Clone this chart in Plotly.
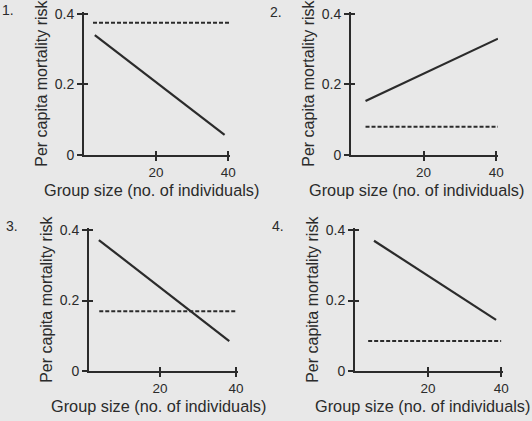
import plotly.graph_objects as go

# Four hypothetical scenarios: per-capita mortality risk vs group size.
# Solid line = risk for individuals in groups; dashed line = risk when solitary.
panel_labels = ["1.", "2.", "3.", "4."]

solid_x = [[3, 39], [4, 40.5], [3.9, 38.2], [5.2, 38.6]]
solid_y = [[0.34, 0.057], [0.153, 0.33], [0.372, 0.085], [0.37, 0.145]]

dashed_x = [[2.5, 40.5], [4, 40.5], [4, 40], [3.6, 40]]
dashed_level = [0.375, 0.08, 0.17, 0.085]

x_ticks = [20, 40]
y_ticks = [0, 0.2, 0.4]
y_tick_text = ["0", "0.2", "0.4"]

x_title = "Group size (no. of individuals)"
y_title = "Per capita mortality risk"

W, H = 532, 421
INK = "#2b2b2b"
BG = "#e8e8e8"
FONT = "Liberation Sans, Arial, sans-serif"

# pixel layout of each panel: (left px, right px, x-axis px, top px, x range start)
boxes = [
    (84, 230, 155, 12.2, 0.0),
    (351, 498, 155, 12.2, 0.0),
    (89, 238, 371, 228.4, 1.3),
    (355, 503, 371, 228.4, 0.0),
]
# centre of each x-axis title, in pixels
x_title_pos = [(151, 190), (416, 190), (158, 406), (422, 406)]

fig = go.Figure()
layout = {}
for i in range(4):
    xa = "x" if i == 0 else f"x{i+1}"
    ya = "y" if i == 0 else f"y{i+1}"
    # second axis pair on top of each panel, carrying the inward half of the ticks
    xo, yo = f"x{i+5}", f"y{i+5}"
    fig.add_trace(go.Scatter(
        x=solid_x[i], y=solid_y[i], mode="lines",
        line=dict(color=INK, width=2.2), xaxis=xa, yaxis=ya, showlegend=False))
    fig.add_trace(go.Scatter(
        x=dashed_x[i], y=[dashed_level[i]] * 2, mode="lines",
        line=dict(color=INK, width=2, dash="4px,2px"), xaxis=xo, yaxis=yo,
        showlegend=False))

    left, right, bottom, top, x0 = boxes[i]
    xdom = [left / W, right / W]
    ydom = [(H - bottom) / H, (H - top) / H]
    xr = [x0, 40.5]
    yr = [0, 0.405]
    xkey = "xaxis" if i == 0 else f"xaxis{i+1}"
    ykey = "yaxis" if i == 0 else f"yaxis{i+1}"
    layout[xkey] = dict(
        domain=xdom, range=xr, anchor=ya,
        showline=True, linecolor=INK, linewidth=2, showgrid=False, zeroline=False,
        tickvals=x_ticks, ticks="outside", ticklen=4, tickwidth=2, tickcolor=INK,
        tickfont=dict(size=13.5, color=INK, family=FONT),
        automargin=False, fixedrange=True)
    layout[ykey] = dict(
        domain=ydom, range=yr, anchor=xa,
        showline=True, linecolor=INK, linewidth=2, showgrid=False, zeroline=False,
        tickvals=y_ticks, ticktext=y_tick_text, ticks="outside", ticklen=5,
        tickwidth=2, tickcolor=INK,
        tickfont=dict(size=14, color=INK, family=FONT),
        title=dict(text=y_title, font=dict(size=16, color=INK, family=FONT), standoff=3),
        automargin=False, fixedrange=True)
    layout[f"xaxis{i+5}"] = dict(
        domain=xdom, range=xr, anchor=yo, overlaying=xa,
        showline=False, showgrid=False, zeroline=False, showticklabels=False,
        tickvals=x_ticks, ticks="inside", ticklen=4, tickwidth=2, tickcolor=INK,
        automargin=False, fixedrange=True)
    layout[f"yaxis{i+5}"] = dict(
        domain=ydom, range=yr, anchor=xo, overlaying=ya,
        showline=False, showgrid=False, zeroline=False, showticklabels=False,
        tickvals=y_ticks[1:], ticks="inside", ticklen=4, tickwidth=2, tickcolor=INK,
        automargin=False, fixedrange=True)

label_pos = [(8, 10), (276, 12), (12, 226), (278, 226)]
annotations = [
    dict(text=panel_labels[i], x=px / W, y=1 - py / H, xref="paper", yref="paper",
         xanchor="center", yanchor="middle", showarrow=False,
         font=dict(size=14, color=INK, family=FONT))
    for i, (px, py) in enumerate(label_pos)
]
annotations += [
    dict(text=x_title, x=px / W, y=1 - py / H, xref="paper", yref="paper",
         xanchor="center", yanchor="middle", showarrow=False,
         font=dict(size=16.3, color=INK, family=FONT))
    for px, py in x_title_pos
]

fig.update_layout(
    width=W, height=H, margin=dict(l=0, r=0, t=0, b=0),
    paper_bgcolor=BG, plot_bgcolor=BG,
    font=dict(family=FONT, color=INK),
    annotations=annotations, **layout)

fig.write_html("out.html")
